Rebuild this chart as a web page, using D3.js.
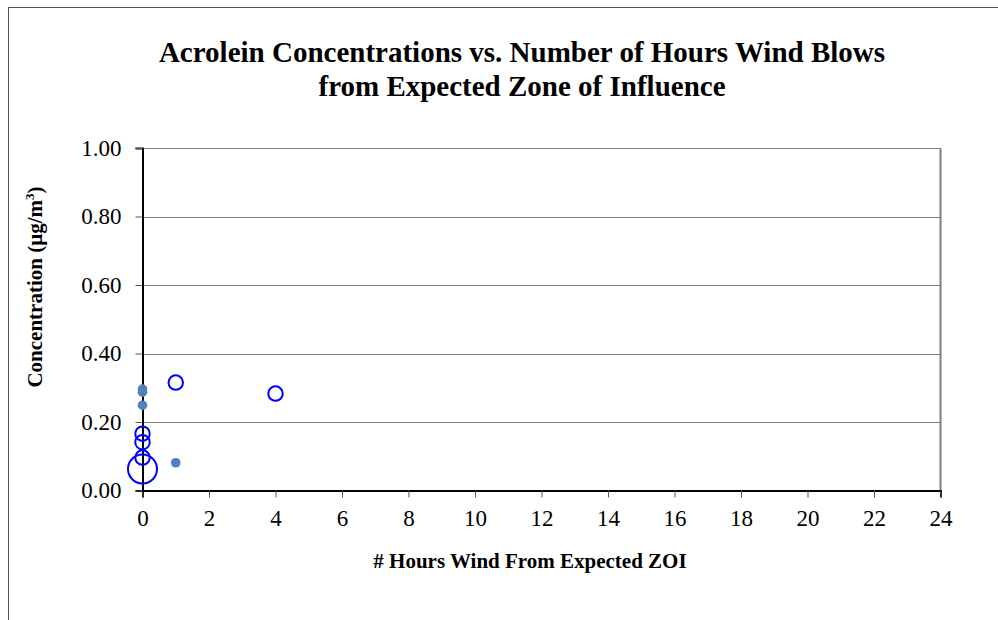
<!DOCTYPE html>
<html>
<head>
<meta charset="utf-8">
<script src="https://cdn.jsdelivr.net/npm/d3@7"></script>
<style>
  body { margin: 0; background: #fff; }
</style>
</head>
<body>
<div id="chart"></div>
<script>
// DATA
const filledX = [0, 0, 0, 1];
const filledY = [0.296, 0.287, 0.249, 0.081];

const bubbleX = [1, 4, 0, 0, 0, 0];
const bubbleY = [0.315, 0.283, 0.166, 0.141, 0.096, 0.063];
const bubbleSize = [1, 1, 1, 1, 1, 4];

const xTicks = d3.range(0, 25, 2);
const yTicks = [0, 0.2, 0.4, 0.6, 0.8, 1.0];

const titleLines = ["Acrolein Concentrations vs. Number of Hours Wind Blows", "from Expected Zone of Influence"];

const FONT = "'Liberation Serif', 'Times New Roman', Times, serif";

function render() {
    const width = 998, height = 620;
    const plot = { left: 142.5, right: 940.5, top: 148, bottom: 490.5 };

    const svg = d3.select('#chart').append('svg')
        .attr('width', width)
        .attr('height', height)
        .style('font-family', FONT);

    // outer frame
    svg.append('rect')
        .attr('x', 8.5).attr('y', 7.5)
        .attr('width', 1000).attr('height', 700)
        .attr('fill', 'none')
        .attr('stroke', '#555')
        .attr('stroke-width', 1);

    const x = d3.scaleLinear().domain([0, 24]).range([plot.left, plot.right]);
    const y = d3.scaleLinear().domain([0, 1]).range([plot.bottom, plot.top]);
    const r = d3.scaleSqrt().domain([0, 4]).range([0, 14.5]);

    // gridlines
    svg.append('g')
        .selectAll('line')
        .data(yTicks.filter(d => d > 0))
        .enter().append('line')
        .attr('x1', plot.left).attr('x2', plot.right)
        .attr('y1', d => Math.round(y(d)) + 0.5).attr('y2', d => Math.round(y(d)) + 0.5)
        .attr('stroke', '#808080')
        .attr('stroke-width', 1);

    // right border
    svg.append('line')
        .attr('x1', plot.right).attr('x2', plot.right)
        .attr('y1', plot.top).attr('y2', plot.bottom)
        .attr('stroke', '#808080')
        .attr('stroke-width', 2);

    // x axis
    const xAxis = svg.append('g')
        .attr('transform', `translate(0,${plot.bottom})`)
        .call(d3.axisBottom(x).tickValues(xTicks).tickSize(7).tickPadding(12).tickFormat(d3.format('d')));
    xAxis.attr('font-family', null);
    xAxis.select('.domain').attr('stroke', '#000').attr('stroke-width', 2);
    xAxis.selectAll('.tick line').attr('stroke', '#555');
    xAxis.selectAll('text').style('font-family', FONT).style('font-size', '23px').attr('fill', '#000');

    // y axis
    const yAxis = svg.append('g')
        .attr('transform', `translate(${plot.left},0)`)
        .call(d3.axisLeft(y).tickValues(yTicks).tickSize(7).tickPadding(14).tickFormat(d3.format('.2f')));
    yAxis.attr('font-family', null);
    yAxis.select('.domain').attr('stroke', '#000').attr('stroke-width', 2);
    yAxis.selectAll('.tick line').attr('stroke', '#555');
    yAxis.selectAll('text').style('font-family', FONT).style('font-size', '23px').attr('fill', '#000');

    // filled points
    svg.append('g')
        .selectAll('circle')
        .data(filledX)
        .enter().append('circle')
        .attr('cx', d => x(d))
        .attr('cy', (d, i) => y(filledY[i]))
        .attr('r', 4.8)
        .attr('fill', '#4f81bd');

    // bubbles
    svg.append('g')
        .selectAll('circle')
        .data(bubbleX)
        .enter().append('circle')
        .attr('cx', d => x(d))
        .attr('cy', (d, i) => y(bubbleY[i]))
        .attr('r', (d, i) => r(bubbleSize[i]))
        .attr('fill', 'none')
        .attr('stroke', '#0000ff')
        .attr('stroke-width', 2);

    // title
    svg.append('text')
        .attr('x', 522).attr('y', 61.5)
        .attr('text-anchor', 'middle')
        .style('font-family', FONT)
        .style('font-size', '29px')
        .style('font-weight', 'bold')
        .selectAll('tspan')
        .data(titleLines)
        .enter().append('tspan')
        .attr('x', 522)
        .attr('dy', (d, i) => i ? 34 : 0)
        .text(d => d);

    // axis labels
    svg.append('text')
        .attr('x', 530).attr('y', 568)
        .attr('text-anchor', 'middle')
        .style('font-family', FONT)
        .style('font-size', '21px')
        .style('font-weight', 'bold')
        .text('# Hours Wind From Expected ZOI');

    const yl = svg.append('text')
        .attr('transform', 'translate(42,287) rotate(-90)')
        .attr('text-anchor', 'middle')
        .style('font-family', FONT)
        .style('font-size', '21px')
        .style('font-weight', 'bold');
    yl.append('tspan').text('Concentration (µg/m');
    yl.append('tspan').attr('dy', -8).style('font-size', '13px').text('3');
    yl.append('tspan').attr('dy', 8).text(')');
}

window.onload = render;
</script>
</body>
</html>
